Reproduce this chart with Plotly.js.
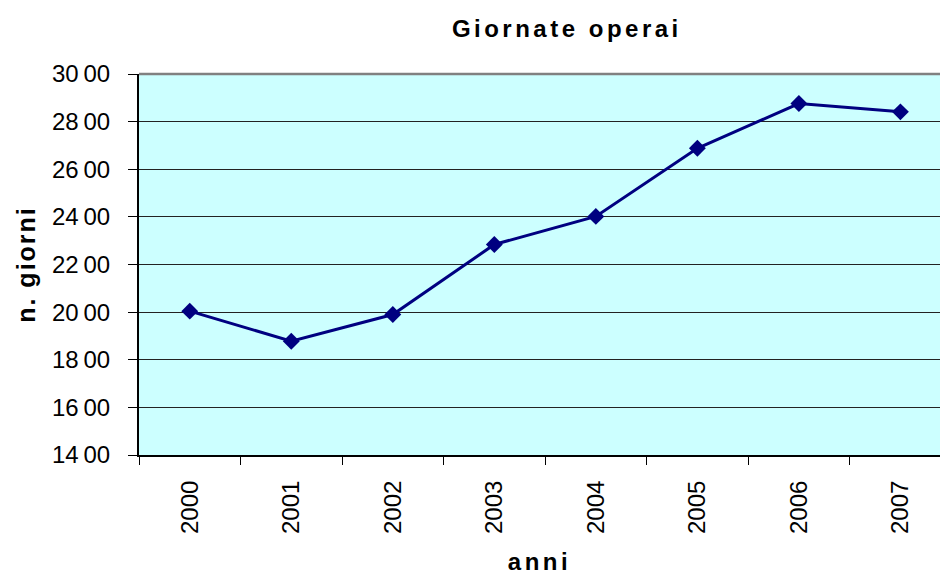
<!DOCTYPE html>
<html>
<head>
<meta charset="utf-8">
<script src="https://cdn.plot.ly/plotly-3.0.1.min.js"></script>
<style>
  body { margin: 0; background: #fff; }
  #chart { width: 940px; height: 575px; }
  /* Excel draws its bold titles with wide spacing */
  .gtitle, .xtitle { letter-spacing: 3.5px; }
  .ytitle { letter-spacing: 2px; }
</style>
</head>
<body>
<div id="chart"></div>
<script>
  // Giornate operai per anno
  var anni = ['2000', '2001', '2002', '2003', '2004', '2005', '2006', '2007'];
  var giorni = [2004, 1878, 1990, 2284, 2402, 2688, 2876, 2841];

  // y tick labels as Excel prints them
  var yTickVals = [1400, 1600, 1800, 2000, 2200, 2400, 2600, 2800, 3000];
  var yTickText = ['14\u200900', '16\u200900', '18\u200900', '20\u200900', '22\u200900',
                   '24\u200900', '26\u200900', '28\u200900', '30\u200900'];

  var font = 'Liberation Sans, Arial, sans-serif';

  var trace = {
    x: anni,
    y: giorni,
    type: 'scatter',
    mode: 'lines+markers',
    line: { color: '#000080', width: 3 },
    marker: { symbol: 'diamond', size: 13, color: '#000080' },
    hoverinfo: 'x+y'
  };

  var layout = {
    width: 940,
    height: 575,
    margin: { l: 139, r: 0, t: 74, b: 120 },
    paper_bgcolor: '#ffffff',
    plot_bgcolor: '#ccffff',
    showlegend: false,
    font: { family: font, color: '#000000' },
    title: {
      text: '<b>Giornate operai</b>',
      font: { family: font, size: 24, color: '#000000' },
      xref: 'container', x: 0.603, xanchor: 'center',
      yref: 'container', y: 0.951, yanchor: 'middle'
    },
    xaxis: {
      type: 'category',
      range: [-0.5, 7.39],
      tickson: 'boundaries',
      ticks: 'outside',
      ticklen: 8,
      tickcolor: '#000000',
      tickangle: -90,
      ticklabelstandoff: 14,
      tickfont: { family: font, size: 24, color: '#000000' },
      showline: true,
      linecolor: '#000000',
      linewidth: 2,
      showgrid: false,
      title: {
        text: '<b>anni</b>',
        font: { family: font, size: 24, color: '#000000' },
        standoff: 20
      }
    },
    yaxis: {
      range: [1400, 3000],
      tickvals: yTickVals,
      ticktext: yTickText,
      ticks: 'outside',
      ticklen: 9,
      tickcolor: '#000000',
      ticklabelstandoff: 13,
      tickfont: { family: font, size: 24, color: '#000000' },
      showline: true,
      linecolor: '#000000',
      linewidth: 2,
      showgrid: true,
      gridcolor: '#222222',
      gridwidth: 1,
      zeroline: false,
      title: {
        text: '<b>n. giorni</b>',
        font: { family: font, size: 25, color: '#000000' },
        standoff: 9
      }
    },
    shapes: [{
      // grey border along the top of the plot area
      type: 'line', xref: 'paper', yref: 'paper',
      x0: 0, x1: 1, y0: 1, y1: 1,
      line: { color: '#808080', width: 2.5 }
    }]
  };

  Plotly.newPlot('chart', [trace], layout, { displayModeBar: false, staticPlot: true });
</script>
</body>
</html>
